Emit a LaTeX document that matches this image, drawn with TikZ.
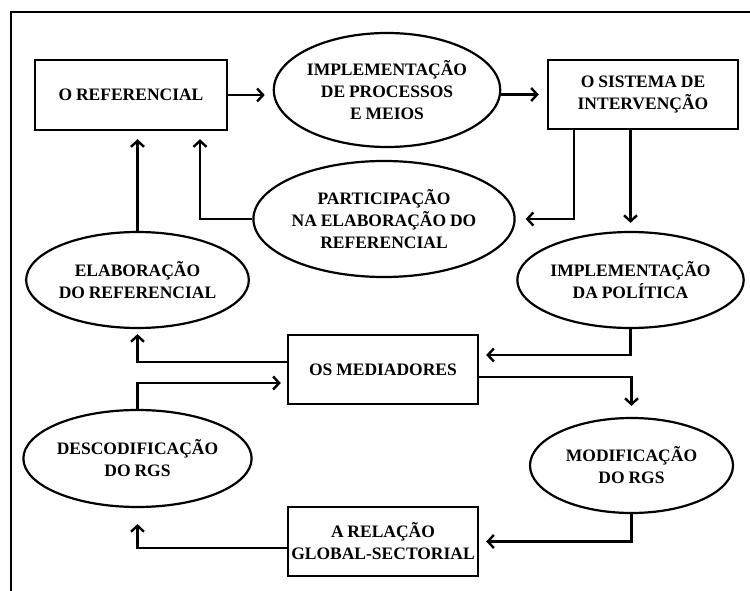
\documentclass[tikz,border=0pt]{standalone}
\usepackage{fontspec}
\setmainfont{Liberation Serif}
\usetikzlibrary{shapes.geometric,arrows.meta}

\newcommand{\labelfont}{\fontsize{17.5}{22}\selectfont\bfseries\spaceskip=0.22em\relax}

\tikzset{
  label text/.style={font=\labelfont, align=center, inner sep=0pt},
  boxnode/.style={label text, draw, line width=2.4pt, rectangle},
  ovalnode/.style={label text, draw, line width=2.2pt, ellipse},
  flow/.style={line width=2.4pt, -{Straight Barb[length=6pt,width=13pt,line width=2.4pt]}, shorten >=8pt},
}

\begin{document}
\begin{tikzpicture}[x=1pt,y=-1pt]
  \useasboundingbox (0,0) rectangle (750,591);

  % outer frame (open on the right and at the bottom)
  \draw[line width=2.6pt] (11,591) -- (11,12) -- (750,12);

  % boxes
  \node[boxnode, minimum width=192pt, minimum height=70pt] (ref) at (131,95) {O REFERENCIAL};
  \node[boxnode, minimum width=190pt, minimum height=69pt] (sis) at (643,94.5) {O SISTEMA DE\\INTERVENÇÃO};
  \node[boxnode, minimum width=190pt, minimum height=69pt] (med) at (383,369.5) {OS MEDIADORES};
  \node[boxnode, minimum width=190pt, minimum height=69pt] (rel) at (383,541.5) {A RELAÇÃO\\GLOBAL-SECTORIAL};

  % ellipses
  \node[ovalnode, minimum width=210pt, minimum height=114pt] (imp) at (387,90) {IMPLEMENTAÇÃO\\DE PROCESSOS\\E MEIOS};
  \node[ovalnode, minimum width=204pt, minimum height=116pt] (par) at (384,219) {PARTICIPAÇÃO\\NA ELABORAÇÃO DO\\REFERENCIAL};
  \node[ovalnode, minimum width=205pt, minimum height=96pt] (ela) at (137.5,280) {ELABORAÇÃO\\DO REFERENCIAL};
  \node[ovalnode, minimum width=205pt, minimum height=96pt] (pol) at (630.5,280) {IMPLEMENTAÇÃO\\DA POLÍTICA};
  \node[ovalnode, minimum width=205pt, minimum height=97pt] (des) at (137.5,458.5) {DESCODIFICAÇÃO\\DO RGS};
  \node[ovalnode, minimum width=203pt, minimum height=95pt] (mod) at (631.5,465.5) {MODIFICAÇÃO\\DO RGS};

  % connectors
  \draw[flow] (ref.east) -- (imp.west |- ref.east);
  \draw[flow] (imp.east |- sis.west) -- (sis.west);
  \draw[flow, shorten >=10pt] ([xshift=-69pt]sis.south) |- (par.east);
  \draw[flow] (par.west) -| ([xshift=69pt]ref.south);
  \draw[flow] (ela.north) -- (ela.north |- ref.south);
  \draw[flow] (sis.south -| pol.north) -- (pol.north);
  \draw[flow, shorten >=7pt] (pol.south) |- ([yshift=14.5pt]med.east);
  \draw[flow, shorten >=5pt] ([yshift=7.5pt]med.west) -| (ela.south);
  \draw[flow, shorten >=6pt] (des.north) |- ([yshift=-13.5pt]med.west);
  \draw[flow, shorten >=11pt] ([yshift=-7.5pt]med.east) -| (mod.north);
  \draw[flow, shorten >=7pt] (mod.south) |- (rel.east);
  \draw[flow, shorten >=16pt] ([yshift=-6.5pt]rel.west) -| (des.south);
\end{tikzpicture}
\end{document}
